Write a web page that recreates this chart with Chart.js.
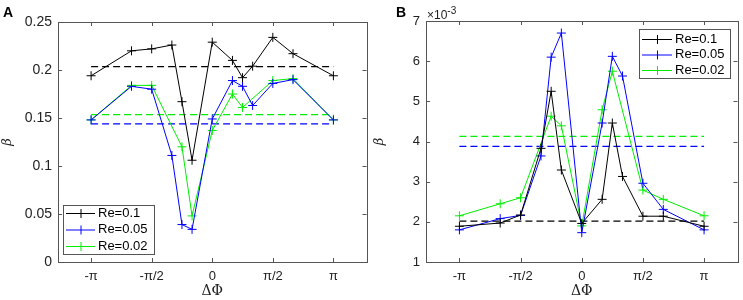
<!DOCTYPE html>
<html>
<head>
<meta charset="utf-8">
<script src="https://cdn.jsdelivr.net/npm/chart.js@4.4.1/dist/chart.umd.min.js"></script>
<style>
  body { margin: 0; background: #fff; }
  #wrap { position: relative; width: 743px; height: 300px; }
  .panel { position: absolute; top: 0; height: 300px; }
  .tag { position: absolute; font: bold 14px "Liberation Sans", Arial, sans-serif; }
  .exp { position: absolute; font: 12px "Liberation Sans", Arial, sans-serif; color: #222; }
</style>
</head>
<body>
<div id="wrap">
  <div class="panel" style="left:0;width:372px"><canvas id="chartA"></canvas></div>
  <div class="panel" style="left:372px;width:371px"><canvas id="chartB"></canvas></div>
  <div class="tag" style="left:3px;top:4px">A</div>
  <div class="tag" style="left:396px;top:4px">B</div>
  <div class="exp" style="left:427px;top:5px">&times;10<sup style="font-size:10px">-3</sup></div>
</div>
<script>
// phase difference positions (fractions of pi)
var phaseFrac = [-1, -2/3, -1/2, -1/3, -1/4, -1/6, 0, 1/6, 1/4, 1/3, 1/2, 2/3, 1];
var tickFrac = [-1, -0.5, 0, 0.5, 1];
var tickLabels = ['-\u03c0', '-\u03c0/2', '0', '\u03c0/2', '\u03c0'];
var seriesNames = ['Re=0.1', 'Re=0.05', 'Re=0.02'];
var seriesColors = ['#000000', '#0000ff', '#00ee00'];

// panel A
var betaA_01 = [0.194, 0.220, 0.222, 0.226, 0.167, 0.106, 0.229, 0.210, 0.192, 0.204, 0.234, 0.217, 0.194];
var betaA_005 = [0.148, 0.183, 0.180, 0.111, 0.039, 0.034, 0.149, 0.189, 0.183, 0.163, 0.186, 0.190, 0.148];
var betaA_002 = [0.148, 0.184, 0.184, null, 0.120, 0.048, 0.137, 0.175, 0.161, null, 0.189, 0.191, 0.148];
var meanA = [0.2035, 0.1438, 0.1535];

// panel B (x 10^-3)
var betaB_01 = [1.89, 1.97, 2.17, 3.83, 5.25, 3.29, 1.96, 2.56, 4.46, 3.13, 2.14, 2.14, 1.89];
var betaB_005 = [1.80, 2.08, 2.16, 3.64, 6.10, 6.70, 1.73, 4.46, 6.12, 5.63, 2.96, 2.31, 1.80];
var betaB_002 = [2.15, 2.45, 2.60, null, 4.63, 4.39, 1.90, 4.79, 5.75, null, 2.79, 2.56, 2.15];
var meanB = [2.02, 3.88, 4.13];

var FONT = '"Liberation Sans", Arial, sans-serif';

function points(vals) {
    return vals.map(function (v, i) { return { x: phaseFrac[i] * Math.PI, y: v }; });
}

function buildDatasets(series, means) {
    var ds = [];
    series.forEach(function (vals, i) {
        ds.push({
            label: seriesNames[i],
            data: points(vals),
            borderColor: seriesColors[i],
            backgroundColor: seriesColors[i],
            borderWidth: 1,
            pointStyle: 'cross',
            pointRadius: 4.5,
            pointBorderWidth: 1,
            spanGaps: true,
            lineTension: 0
        });
    });
    means.forEach(function (m, i) {
        ds.push({
            label: 'mean' + i,
            data: [{ x: -Math.PI, y: m }, { x: Math.PI, y: m }],
            borderColor: seriesColors[i],
            borderWidth: 1.2,
            borderDash: [7, 4],
            pointRadius: 0
        });
    });
    return ds;
}

// box, inward ticks and legend drawn like matlab axes
var axesBox = {
    id: 'axesBox',
    afterDraw: function (chart, args, opts) {
        var ctx = chart.ctx, a = chart.chartArea;
        var xs = chart.scales.x, ys = chart.scales.y;
        ctx.save();
        ctx.strokeStyle = '#555';
        ctx.lineWidth = 1;
        ctx.strokeRect(Math.round(a.left) + 0.5, Math.round(a.top) + 0.5, Math.round(a.right - a.left), Math.round(a.bottom - a.top));
        ctx.beginPath();
        xs.ticks.forEach(function (t) {
            var px = Math.round(xs.getPixelForValue(t.value)) + 0.5;
            ctx.moveTo(px, a.bottom); ctx.lineTo(px, a.bottom - 4);
            ctx.moveTo(px, a.top); ctx.lineTo(px, a.top + 4);
        });
        ys.ticks.forEach(function (t) {
            var py = Math.round(ys.getPixelForValue(t.value)) + 0.5;
            ctx.moveTo(a.left, py); ctx.lineTo(a.left + 4, py);
            ctx.moveTo(a.right, py); ctx.lineTo(a.right - 4, py);
        });
        ctx.stroke();

        // legend
        var L = opts.legend;
        ctx.fillStyle = '#fff';
        ctx.fillRect(L.x, L.y, L.w, L.h);
        ctx.strokeRect(L.x + 0.5, L.y + 0.5, L.w, L.h);
        ctx.font = L.font + 'px ' + FONT;
        ctx.textBaseline = 'middle';
        for (var i = 0; i < seriesNames.length; i++) {
            var yy = L.y + L.first + i * L.step;
            ctx.strokeStyle = seriesColors[i];
            ctx.beginPath();
            ctx.moveTo(L.x + 3, yy + 0.5); ctx.lineTo(L.x + 3 + L.line, yy + 0.5);
            var cx = L.x + 3 + L.line / 2;
            ctx.moveTo(cx + 0.5, yy - 4); ctx.lineTo(cx + 0.5, yy + 5);
            ctx.stroke();
            ctx.fillStyle = '#000';
            ctx.fillText(seriesNames[i], L.x + L.line + 6, yy);
        }
        ctx.restore();
    }
};

function makeChart(id, series, means, yopt, pad, yWidth, legend) {
    return new Chart(document.getElementById(id).getContext('2d'), {
        type: 'line',
        data: { datasets: buildDatasets(series, means) },
        plugins: [axesBox],
        options: {
            responsive: true,
            maintainAspectRatio: false,
            animation: false,
            layout: { padding: pad },
            plugins: {
                legend: { display: false },
                tooltip: { enabled: false },
                axesBox: { legend: legend }
            },
            scales: {
                x: {
                    type: 'linear',
                    min: -4, max: 4,
                    grid: { display: false, drawTicks: false },
                    border: { display: false },
                    afterBuildTicks: function (s) {
                        s.ticks = tickFrac.map(function (f) { return { value: f * Math.PI }; });
                    },
                    afterFit: function (s) { s.height = 38; },
                    ticks: {
                        autoSkip: false, maxRotation: 0, padding: 7,
                        color: '#222', font: { family: FONT, size: 13 },
                        callback: function (v, i) { return tickLabels[i]; }
                    },
                    title: {
                        display: true, text: '\u0394\u03a6', color: '#222',
                        font: { family: '"DejaVu Serif", serif', size: 14 },
                        padding: { top: 0, bottom: 0 }
                    }
                },
                y: {
                    min: yopt.min, max: yopt.max,
                    grid: { display: false, drawTicks: false },
                    border: { display: false },
                    afterFit: function (s) { s.width = yWidth; },
                    ticks: {
                        stepSize: yopt.step, padding: 6, color: '#222',
                        font: { family: FONT, size: yopt.font },
                        callback: function (v) { return Math.round(v * 1000) / 1000; }
                    },
                    title: {
                        display: true, text: '\u03b2', color: '#222',
                        font: { family: '"DejaVu Serif", serif', size: 13, style: 'italic' },
                        padding: 0
                    }
                }
            }
        }
    });
}

makeChart('chartA', [betaA_01, betaA_005, betaA_002], meanA,
    { min: 0, max: 0.25, step: 0.05, font: 14 },
    { top: 22, right: 4, left: 0, bottom: 0 }, 58,
    { x: 63, y: 205, w: 91, h: 49, first: 8, step: 16.5, line: 29, font: 13 });

makeChart('chartB', [betaB_01, betaB_005, betaB_002], meanB,
    { min: 1, max: 7, step: 1, font: 13 },
    { top: 21, right: 5, left: 0, bottom: 0 }, 54,
    { x: 267, y: 29, w: 91, h: 49, first: 10, step: 15.5, line: 30, font: 13 });
</script>
</body>
</html>
